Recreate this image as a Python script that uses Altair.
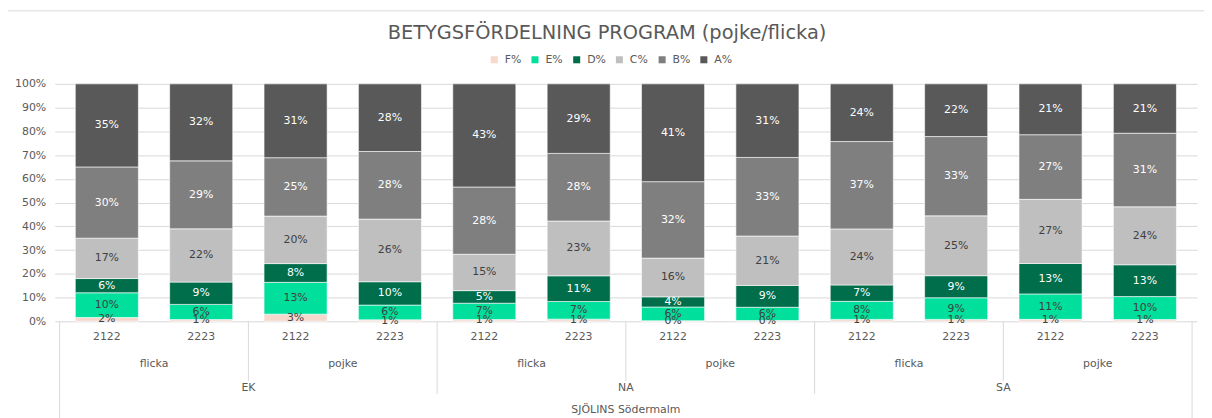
import altair as alt
import pandas as pd

programs = ["EK"] * 4 + ["NA"] * 4 + ["SA"] * 4
genders = ["flicka", "flicka", "pojke", "pojke"] * 3
years = ["2122", "2223"] * 6
school = "SJÖLINS Södermalm"
title_text = "BETYGSFÖRDELNING PROGRAM (pojke/flicka)"

grades = ["F%", "E%", "D%", "C%", "B%", "A%"]
F = [1.6, 0.7, 3.0, 0.6, 0.7, 0.9, 0.2, 0.3, 0.8, 0.8, 0.8, 0.7]
E = [10.4, 6.4, 13.4, 6.2, 6.9, 7.4, 5.8, 5.6, 7.6, 9.1, 10.7, 9.7]
D = [6.0, 9.4, 7.9, 9.8, 5.3, 10.8, 4.3, 9.2, 6.9, 9.3, 12.8, 13.4]
C = [17.0, 22.4, 20.0, 26.3, 15.3, 23.0, 16.3, 20.8, 23.6, 25.2, 27.0, 24.4]
B = [30.0, 28.6, 24.6, 28.4, 28.3, 28.4, 32.2, 33.1, 36.8, 33.4, 27.2, 31.0]
A = [35.0, 32.4, 31.1, 28.4, 43.4, 29.2, 41.2, 31.0, 24.3, 22.2, 21.4, 20.8]
series = [F, E, D, C, B, A]
tick_values = [0.0, 0.1, 0.2, 0.3, 0.4, 0.5, 0.6, 0.7, 0.8, 0.9, 1.0]

colors = ["#F6D8CD", "#00DF9C", "#006E4B", "#BFBFBF", "#7F7F7F", "#595959"]
text_colors = ["#404040", "#404040", "#FFFFFF", "#404040", "#FFFFFF", "#FFFFFF"]

FONT = "DejaVu Sans"
GREY = "#595959"
LINE = "#D9D9D9"

rows = []
for i in range(len(years)):
    for k, g in enumerate(grades):
        rows.append({
            "c": i + 0.5,
            "key": f"{programs[i]}|{genders[i]}|{years[i]}",
            "grade": g,
            "order": k,
            "value": series[k][i] / 100.0,
            "tc": text_colors[k],
        })
df = pd.DataFrame(rows)

slots = pd.DataFrame({"c": [i + 0.5 for i in range(len(years))], "year": years})
gender_df = pd.DataFrame({
    "c": [2 * j + 1 for j in range(len(years) // 2)],
    "gender": [genders[2 * j] for j in range(len(years) // 2)],
})
prog_df = pd.DataFrame({
    "c": [4 * j + 2 for j in range(len(years) // 4)],
    "prog": [programs[4 * j] for j in range(len(years) // 4)],
})
school_df = pd.DataFrame({"c": [len(years) / 2], "school": [school]})
title_df = pd.DataFrame({"t": [title_text]})
sep_gender = pd.DataFrame({"p": [4 * j + 2 for j in range(3)]})
sep_prog = pd.DataFrame({"p": [4, 8]})
sep_outer = pd.DataFrame({"p": [0, 12]})
one = pd.DataFrame({"a": [0]})

xscale = alt.Scale(domain=[0, 12], nice=False, zero=False)
xenc = alt.X("c:Q", scale=xscale, axis=None)
yscale = alt.Scale(domain=[0, 1], nice=False)
yaxis = alt.Axis(values=tick_values, format=".0%", title=None,
                 ticks=False, domain=False, grid=True, gridColor=LINE,
                 labelColor=GREY, labelFontSize=11, labelFont=FONT,
                 labelPadding=9, labelOverlap=False, labelFlush=False,
                 labelBound=False)

base = alt.Chart(df).transform_stack(
    stack="value", groupby=["key"], sort=[alt.SortField("order")],
    as_=["y0", "y1"], offset="normalize"
).transform_calculate(mid="(datum.y0 + datum.y1) / 2")

bars = base.mark_bar(size=63.5, stroke="#FFFFFF", strokeWidth=0.6).encode(
    x=xenc,
    y=alt.Y("y0:Q", scale=yscale, axis=yaxis, title=None),
    y2="y1:Q",
    color=alt.Color("grade:N", scale=alt.Scale(domain=grades, range=colors),
                    legend=alt.Legend(title=None, orient="none", direction="horizontal",
                                      legendX=437, legendY=-30, symbolType="square",
                                      symbolSize=50, symbolStrokeWidth=0,
                                      labelFontSize=11, labelColor=GREY, labelFont=FONT,
                                      columnPadding=8, labelOffset=5)),
    order=alt.Order("order:Q"),
)

labels = base.mark_text(fontSize=11, font=FONT, baseline="middle").encode(
    x=xenc,
    y=alt.Y("mid:Q", scale=yscale, axis=yaxis, title=None),
    text=alt.Text("value:Q", format=".0%"),
    color=alt.Color("tc:N", scale=None),
)

txt = dict(fontSize=11, font=FONT, color=GREY, baseline="middle")
year_t = alt.Chart(slots).mark_text(**txt).encode(x=xenc, y=alt.value(255), text="year:N")
gender_t = alt.Chart(gender_df).mark_text(**txt).encode(x=xenc, y=alt.value(282), text="gender:N")
prog_t = alt.Chart(prog_df).mark_text(**txt).encode(x=xenc, y=alt.value(306), text="prog:N")
school_t = alt.Chart(school_df).mark_text(**txt).encode(x=xenc, y=alt.value(328), text="school:N")
title_t = alt.Chart(title_df).mark_text(fontSize=19.5, font=FONT, color=GREY, baseline="middle").encode(
    x=alt.value(556), y=alt.value(-51), text="t:N")

rx = alt.X("p:Q", scale=xscale, axis=None)
r1 = alt.Chart(sep_gender).mark_rule(color=LINE).encode(x=rx, y=alt.value(239), y2=alt.value(299))
r2 = alt.Chart(sep_prog).mark_rule(color=LINE).encode(x=rx, y=alt.value(239), y2=alt.value(312))
r3 = alt.Chart(sep_outer).mark_rule(color=LINE).encode(x=rx, y=alt.value(239), y2=alt.value(340))

border = alt.Chart(one).mark_rect(fillOpacity=0, stroke=LINE, strokeWidth=1).encode(
    x=alt.value(-48.5), x2=alt.value(1300), y=alt.value(-73.5), y2=alt.value(400)
)

chart = alt.layer(bars, labels, border, year_t, gender_t, prog_t, school_t, title_t, r1, r2, r3).properties(
    width=1150, height=239,
    autosize=alt.AutoSizeParams(type="none"),
    padding={"left": 47, "top": 75, "right": 7, "bottom": 96},
).configure_view(stroke=None).configure_axisY(labelOverlap=False)

chart.save("out.html", embed_options={"renderer": "svg", "actions": False})
